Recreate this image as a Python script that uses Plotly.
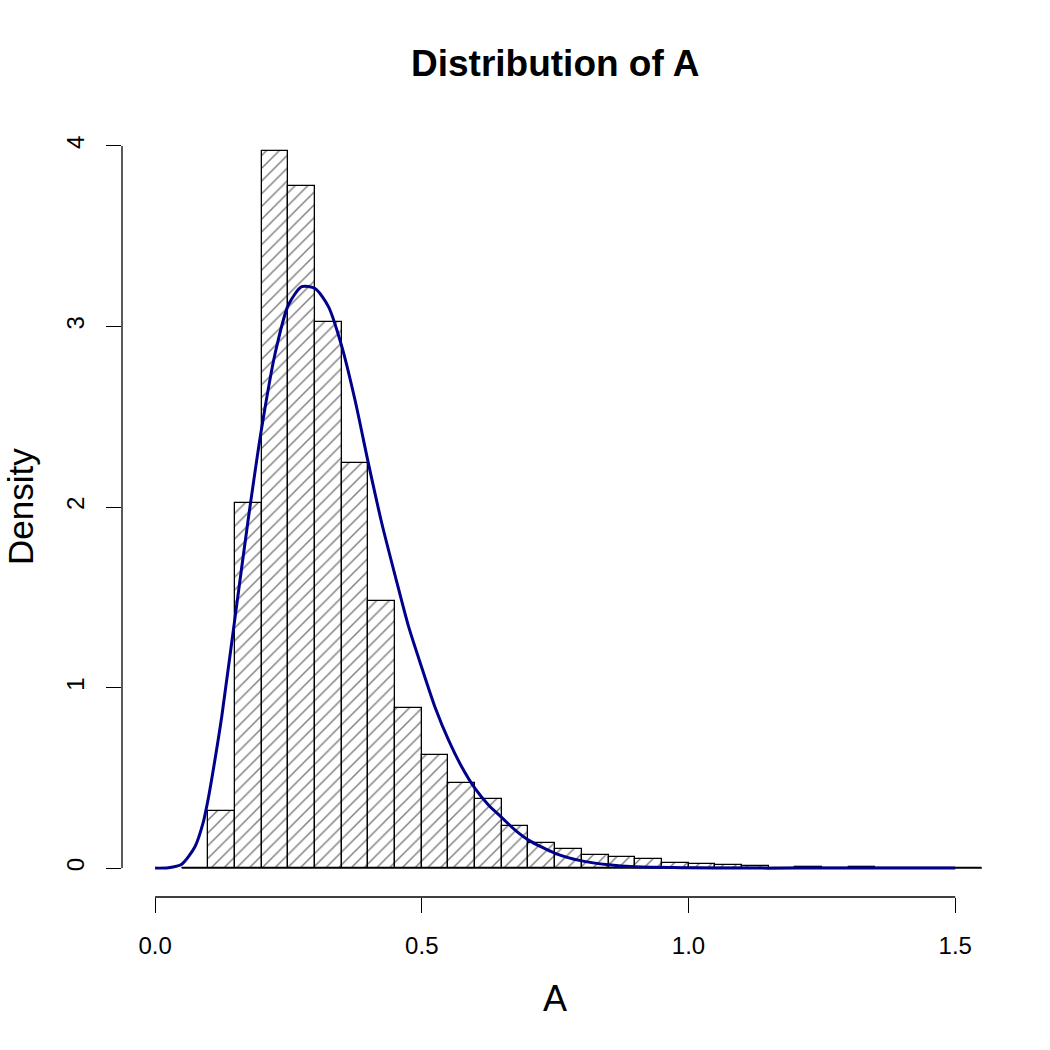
import plotly.graph_objects as go

# ---- data ----
bin_left = [0.05, 0.10, 0.15, 0.20, 0.25, 0.30, 0.35, 0.40, 0.45, 0.50,
            0.55, 0.60, 0.65, 0.70, 0.75, 0.80, 0.85, 0.90, 0.95, 1.00,
            1.05, 1.10, 1.15, 1.20, 1.25, 1.30, 1.35, 1.40, 1.45, 1.50]
bin_width = 0.05
hist_density = [0.0, 0.316, 2.02, 3.97, 3.78, 3.027, 2.245, 1.479, 0.888, 0.627,
                0.472, 0.384, 0.233, 0.140, 0.107, 0.074, 0.059, 0.048, 0.029, 0.022,
                0.017, 0.014, 0.0, 0.004, 0.0, 0.004, 0.0, 0.0, 0.0, 0.0]

curve_x = [0.0, 0.025, 0.05, 0.075, 0.09, 0.10, 0.11, 0.125, 0.15, 0.175, 0.20, 0.225,
           0.25, 0.275, 0.30, 0.325, 0.35, 0.375, 0.40, 0.425, 0.45, 0.475,
           0.50, 0.525, 0.55, 0.575, 0.60, 0.625, 0.65, 0.675, 0.70, 0.75,
           0.80, 0.85, 0.90, 1.00, 1.10, 1.20, 1.30, 1.40, 1.50]
curve_y = [0.0, 0.002, 0.022, 0.12, 0.25, 0.39, 0.56, 0.84, 1.39, 1.94, 2.44, 2.85,
           3.12, 3.22, 3.21, 3.11, 2.89, 2.59, 2.24, 1.91, 1.62, 1.34,
           1.11, 0.89, 0.71, 0.56, 0.44, 0.35, 0.28, 0.21, 0.155, 0.082,
           0.040, 0.018, 0.007, 0.002, 0.0, 0.0, 0.0, 0.0, 0.0]

x_ticks = [0.0, 0.5, 1.0, 1.5]
x_tick_labels = ["0.0", "0.5", "1.0", "1.5"]
y_ticks = [0, 1, 2, 3, 4]
y_tick_labels = ["0", "1", "2", "3", "4"]

title_text = "Distribution of A"
x_label = "A"
y_label = "Density"

FONT = "Liberation Sans, Arial, Helvetica, sans-serif"

bin_centers = [b + bin_width / 2 for b in bin_left]

fig = go.Figure()
fig.add_trace(go.Bar(
    x=bin_centers, y=hist_density, width=bin_width,
    marker=dict(color="white",
                line=dict(color="black", width=1.3),
                pattern=dict(shape="/", fgcolor="black", bgcolor="white",
                             size=9, solidity=0.16)),
    hoverinfo="skip", showlegend=False,
))
fig.add_trace(go.Scatter(
    x=curve_x, y=curve_y, mode="lines",
    line=dict(color="#00008B", width=3, shape="spline", smoothing=0.7),
    showlegend=False,
))

# baseline of histogram (zero-height bins drawn as border)
fig.add_shape(type="line", xref="x", yref="y",
              x0=bin_left[0], x1=bin_left[-1] + bin_width, y0=0, y1=0,
              line=dict(color="black", width=1.3), layer="below")
# R-style axis lines spanning tick range
fig.add_shape(type="line", xref="x", yref="paper",
              x0=x_ticks[0], x1=x_ticks[-1], y0=0, y1=0,
              line=dict(color="black", width=1.3))
fig.add_shape(type="line", xref="paper", yref="y",
              x0=0, x1=0, y0=y_ticks[0], y1=y_ticks[-1],
              line=dict(color="black", width=1.3))

plot_w = 1050 - 122 - 35
plot_h = 1050 - 117 - 153

fig.update_layout(
    width=1050, height=1050,
    margin=dict(l=122, r=35, t=117, b=153, autoexpand=False),
    paper_bgcolor="white", plot_bgcolor="white",
    bargap=0,
    font=dict(family=FONT, color="black", size=24),
    xaxis=dict(range=[-0.062, 1.612], showgrid=False, zeroline=False,
               showline=False, tickmode="array", tickvals=x_ticks,
               ticktext=x_tick_labels, ticks="outside", ticklen=15,
               tickwidth=1.3, tickcolor="black", ticklabelstandoff=12,
               tickfont=dict(size=24, family=FONT)),
    yaxis=dict(range=[-0.16, 4.16], showgrid=False, zeroline=False,
               showline=False, tickmode="array", tickvals=y_ticks,
               ticktext=y_tick_labels, ticks="outside", ticklen=15,
               tickwidth=1.3, tickcolor="black", tickangle=-90,
               ticklabelstandoff=12, tickfont=dict(size=24, family=FONT)),
    annotations=[
        dict(text="<b>" + title_text + "</b>", xref="paper", yref="paper",
             x=(555 - 122) / plot_w, y=(897 - 63) / plot_h,
             xanchor="center", yanchor="middle", showarrow=False,
             font=dict(size=37, family=FONT)),
        dict(text=x_label, xref="paper", yref="paper",
             x=(555 - 122) / plot_w, y=(897 - 998) / plot_h,
             xanchor="center", yanchor="middle", showarrow=False,
             font=dict(size=36, family=FONT)),
        dict(text=y_label, xref="paper", yref="paper",
             x=(20 - 122) / plot_w, y=(897 - 507) / plot_h,
             xanchor="center", yanchor="middle", showarrow=False,
             textangle=-90, font=dict(size=35, family=FONT)),
    ],
)

fig.write_html("out.html")
